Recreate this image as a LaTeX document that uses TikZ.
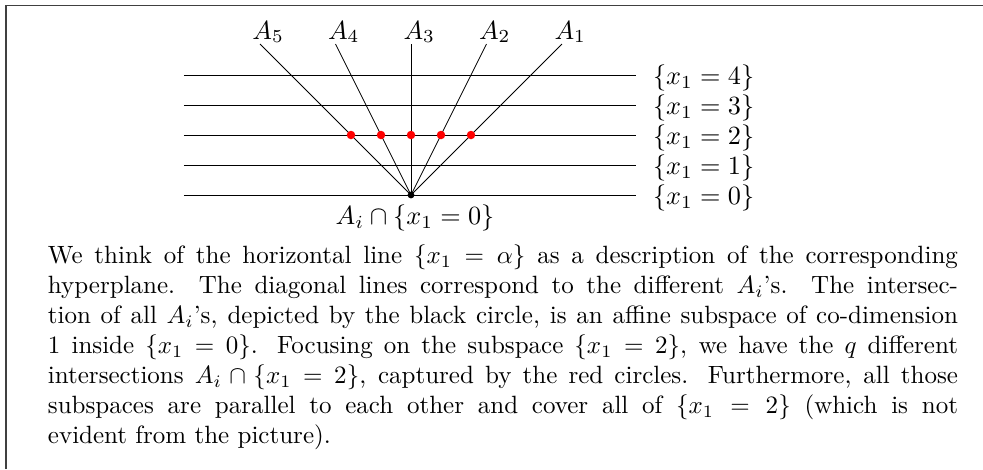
\documentclass[tikz,border=0pt]{standalone}
\usepackage{graphicx}
\tikzset{
  frameline/.style={draw=black!75, line width=0.6pt},
  hline/.style={draw=black, line width=0.4pt},
  dline/.style={draw=black, line width=0.35pt},
  reddot/.style={fill=red, draw=none},
  blackdot/.style={fill=black, draw=none},
  lab/.style={inner sep=0pt, outer sep=0pt},
}
\newcommand{\figlab}[1]{\scalebox{1.05}{$#1$}}
\begin{document}
\begin{tikzpicture}[x=0.4pt, y=-0.4pt]
\useasboundingbox (0,0) rectangle (983,469);
% frame
\coordinate (fbl) at (6,469);
\coordinate (ftl) at (6,5.5);
\coordinate (ftr) at (983,5.5);
\draw[frameline] (fbl) -- (ftl) -- (ftr);
% horizontal lines
\foreach \k/\yy in {0/195,1/165,2/135,3/105,4/75}{
  \coordinate (hl\k) at (184,\yy);
  \coordinate (hr\k) at (636,\yy);
  \draw[hline] (hl\k) -- (hr\k);
  \node[lab, anchor=west] (hlab\k) at (653,\yy+2.5) {\figlab{\{x_1=\k\}}};
}
% diagonal lines
\coordinate (O) at (411,195);
\foreach \i/\dx in {5/-151,4/-75.5,3/0,2/75.5,1/151}{
  \coordinate (t\i) at (411+\dx,44);
  \draw[dline] (O) -- (t\i);
  \node[lab, anchor=base west] (a\i) at (411+\dx-7.5,39) {\figlab{A_{\i}}};
}
% red intersection points
\foreach \i/\dx in {5/-60,4/-30,3/0,2/30,1/60}{
  \fill[reddot] (411+\dx,135) circle (1.7pt);
}
\fill[blackdot] (O) circle (1.35pt);
\node[lab] (olab) at (415,217.5) {\figlab{A_i\cap\{x_1=0\}}};
% caption paragraph
\node[lab, anchor=base west] (cap) at (48,263.5) {\parbox[t]{364pt}{We think of the horizontal line $\{x_1=\alpha\}$ as a description of the corresponding\linebreak
hyperplane. The diagonal lines correspond to the different $A_i$'s. The intersec-\linebreak
tion of all $A_i$'s, depicted by the black circle, is an affine subspace of co-dimension\linebreak
1 inside $\{x_1=0\}$. Focusing on the subspace $\{x_1=2\}$, we have the $q$ different\linebreak
intersections $A_i\cap\{x_1=2\}$, captured by the red circles. Furthermore, all those\linebreak
subspaces are parallel to each other and cover all of $\{x_1=2\}$ (which is not\linebreak
evident from the picture).}};
\end{tikzpicture}
\end{document}
